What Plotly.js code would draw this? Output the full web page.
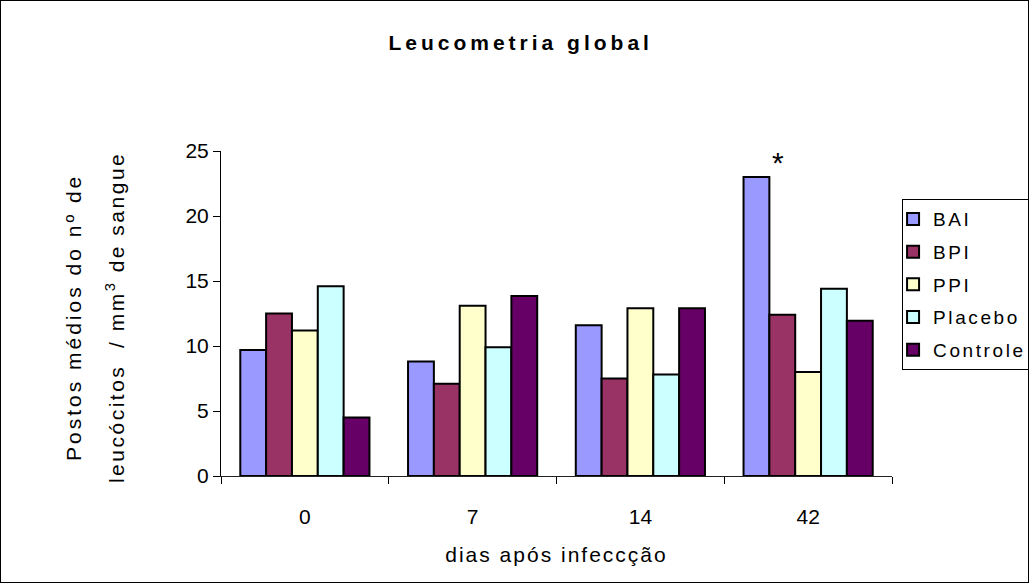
<!DOCTYPE html>
<html><head><meta charset="utf-8">
<script src="https://cdn.plot.ly/plotly-3.0.1.min.js"></script>
<style>body{margin:0;padding:0;background:#fff}#wrap{position:relative;width:1029px;height:583px}#frame{position:absolute;left:0;top:0;width:1027px;height:581px;border:1px solid #000;pointer-events:none}</style>
</head><body><div id="wrap"><div id="chart" style="width:1029px;height:583px"></div><div id="frame"></div></div>
<script>
const categories = ['0', '7', '14', '42'];
const seriesNames = ['BAI', 'BPI', 'PPI', 'Placebo', 'Controle'];
const BAI = [9.7, 8.8, 11.6, 23.0];
const BPI = [12.5, 7.1, 7.5, 12.4];
const PPI = [11.2, 13.1, 12.9, 8.0];
const Placebo = [14.6, 9.9, 7.8, 14.4];
const Controle = [4.5, 13.85, 12.9, 11.95];
const colors = ['#9999FF', '#993366', '#FFFFCC', '#CCFFFF', '#660066'];
const values = [BAI, BPI, PPI, Placebo, Controle];
const chartTitle = 'Leucometria global';
const xTitle = 'dias após infeccção';
const yTitle1 = 'Postos médios do nº de';
const yTitle2 = 'leucócitos  / mm<sup>3</sup> de sangue';

const sp = (t, s) => '<span style="letter-spacing:' + s + 'px">' + t + '</span>';

const traces = seriesNames.map((n, i) => ({
  type: 'bar', name: sp(n, 2.6), x: categories, y: values[i], legendgroup: 'g' + i,
  marker: {color: colors[i], line: {color: '#000', width: 2}}
}));

const font = '"Liberation Sans", Arial, sans-serif';
const layout = {
  width: 1029, height: 583,
  margin: {l: 221, r: 137, t: 151, b: 107, autoexpand: false},
  paper_bgcolor: '#fff', plot_bgcolor: '#fff',
  barmode: 'group', bargap: 0.23, bargroupgap: 0,
  font: {family: font, color: '#000'},
  showlegend: true,
  title: {text: sp('<b>' + chartTitle + '</b>', 4), font: {size: 21, family: font}, x: 0.506, xanchor: 'center', y: 0.926, yanchor: 'middle'},
  xaxis: {
    type: 'category', tickson: 'boundaries', ticks: 'outside', ticklen: 7, tickcolor: '#000',
    showline: true, linecolor: '#222', linewidth: 1, showgrid: false,
    tickfont: {size: 21}, ticklabelstandoff: 22, automargin: false,
    title: {text: sp(xTitle, 2), font: {size: 21}, standoff: 20}
  },
  yaxis: {
    range: [0, 25], dtick: 5, ticks: 'outside', ticklen: 7, tickcolor: '#000',
    showline: true, linecolor: '#000', linewidth: 1, showgrid: false, zeroline: false,
    tickfont: {size: 21}, automargin: false
  },
  legend: {
    x: 1.015, xanchor: 'left', y: 0.852, yanchor: 'top',
    bordercolor: '#000', borderwidth: 1, bgcolor: '#fff',
    font: {size: 19}, tracegroupgap: 5, indentation: -10
  },
  annotations: [
    {x: 2.82, y: 23.0, xref: 'x', yref: 'y', text: '*', showarrow: false,
     yanchor: 'bottom', yshift: -4, font: {size: 30}},
    {x: -0.2206, y: 0.489, xref: 'paper', yref: 'paper', text: sp(yTitle1, 3), textangle: -90,
     showarrow: false, xanchor: 'center', yanchor: 'middle', font: {size: 21}},
    {x: -0.158, y: 0.489, xref: 'paper', yref: 'paper', text: sp(yTitle2, 2.5), textangle: -90,
     showarrow: false, xanchor: 'center', yanchor: 'middle', font: {size: 21}}
  ]
};
Plotly.newPlot('chart', traces, layout, {displayModeBar: false, staticPlot: true});
</script></body></html>
